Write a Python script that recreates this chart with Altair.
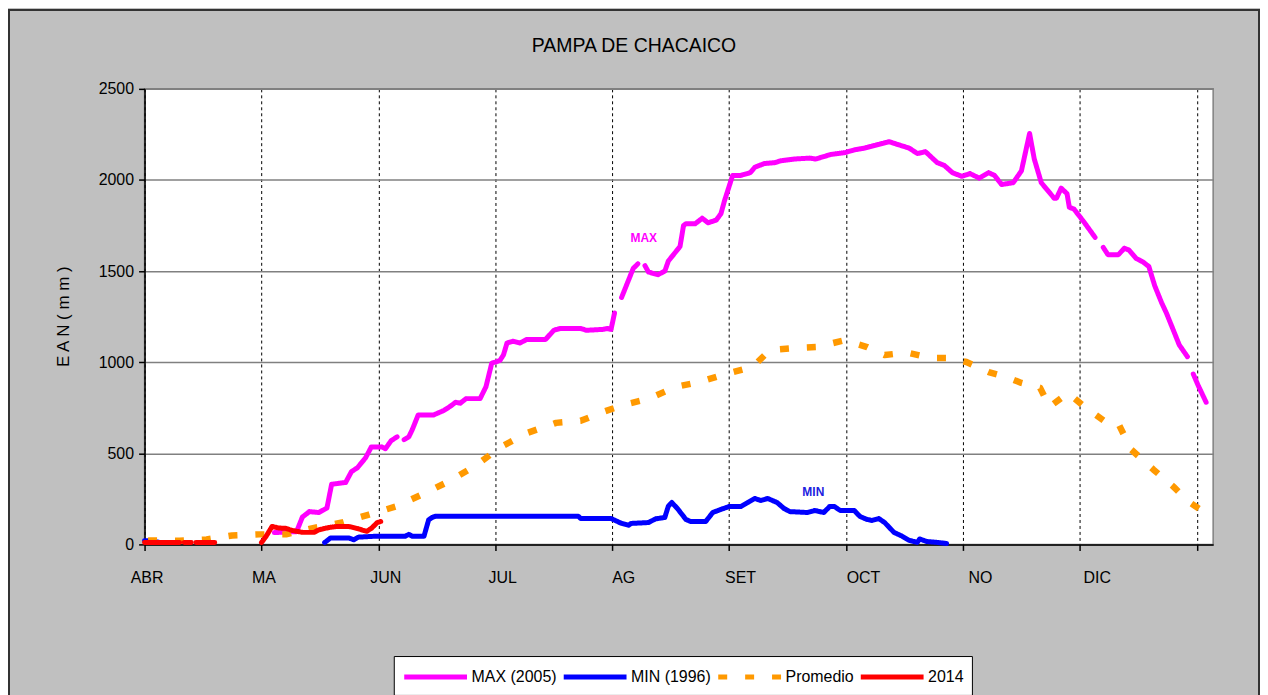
import altair as alt
import pandas as pd

FONT = "Liberation Sans, Arial, sans-serif"

# ---- categories / labels ----
chart_title = "PAMPA DE CHACAICO"
y_title = "E A N  ( m m )"
months = ["ABR", "MA", "JUN", "JUL", "AG", "SET", "OCT", "NO", "DIC"]
series_names = ["MAX (2005)", "MIN (1996)", "Promedio", "2014"]
series_colors = ["#FF00FF", "#0000FF", "#FF9900", "#FF0000"]
series_dash = [[1, 0], [1, 0], [9, 18], [1, 0]]
y_ticks = [0, 500, 1000, 1500, 2000, 2500]

# ---- data: x = months since 1 April, y = EAN (mm); None marks a gap ----
max_x = [1.11, 1.30, 1.35, 1.41, 1.49, 1.56, 1.60, 1.72, 1.77, 1.82, 1.89, 1.94, 2.03, 2.06, 2.11, 2.16, None,
         2.22, 2.26, 2.29, 2.34, 2.47, 2.56, 2.62, 2.66, 2.70, 2.75, 2.87, 2.92, 2.97, 3.00, 3.04, 3.07, 3.10,
         3.15, 3.21, 3.27, 3.43, 3.50, 3.56, 3.73, 3.78, 3.92, 3.96, 3.99, 4.02, None,
         4.08, 4.18, 4.22, None,
         4.28, 4.31, 4.39, 4.45, 4.48, 4.58, 4.61, 4.63, 4.71, 4.77, 4.82, 4.89, 4.93, 4.96, 5.03, 5.10, 5.18,
         5.22, 5.30, 5.39, 5.44, 5.56, 5.69, 5.74, 5.87, 5.99, 6.07, 6.16, 6.25, 6.37, 6.44, 6.54, 6.61, 6.68,
         6.78, 6.84, 6.91, 6.99, 7.06, 7.14, 7.22, 7.27, 7.33, 7.43, 7.50, 7.57, 7.61, 7.67, 7.78, 7.80, 7.84,
         7.89, 7.91, 7.95, 8.04, 8.13, None,
         8.20, 8.24, 8.33, 8.38, 8.42, 8.48, 8.54, 8.59, 8.64, 8.70, 8.74, 8.80, 8.85, 8.92, None,
         8.97, 9.01, 9.08]
max_y = [65, 70, 150, 180, 175, 200, 330, 340, 400, 420, 475, 535, 535, 525, 570, 590, None,
         575, 590, 630, 710, 710, 735, 760, 780, 775, 800, 800, 865, 995, 1000, 1010, 1040, 1105,
         1115, 1105, 1125, 1125, 1175, 1185, 1185, 1175, 1180, 1185, 1180, 1270, None,
         1355, 1515, 1540, None,
         1530, 1495, 1480, 1500, 1555, 1635, 1750, 1760, 1760, 1790, 1765, 1780, 1815, 1885, 2025, 2025, 2040,
         2070, 2090, 2095, 2105, 2115, 2120, 2115, 2140, 2150, 2165, 2175, 2190, 2210, 2195, 2175, 2145, 2155,
         2095, 2080, 2040, 2020, 2035, 2010, 2040, 2025, 1975, 1985, 2050, 2255, 2115, 1985, 1900, 1900, 1955,
         1925, 1850, 1840, 1765, 1685, None,
         1630, 1590, 1590, 1625, 1615, 1570, 1550, 1525, 1420, 1325, 1270, 1175, 1095, 1030, None,
         935, 875, 780]

min_x = [0.00, 0.06, 0.13, None,
         1.54, 1.59, 1.75, 1.79, 1.83, 1.98, 2.23, 2.26, 2.29, 2.39, 2.43, 2.46, 2.49, 3.71, 3.73, 3.99,
         4.07, 4.14, 4.16, 4.31, 4.37, 4.45, 4.48, 4.51, 4.56, 4.63, 4.67, 4.80, 4.86, 4.92, 5.00, 5.10,
         5.16, 5.22, 5.27, 5.33, 5.41, 5.47, 5.52, 5.67, 5.73, 5.81, 5.86, 5.90, 5.95, 6.07, 6.12, 6.18,
         6.22, 6.28, 6.33, 6.41, 6.48, 6.54, 6.61, 6.63, 6.69, 6.78, 6.86]
min_y = [20, 20, 10, None,
         10, 35, 35, 25, 40, 45, 45, 55, 45, 45, 135, 148, 155, 155, 142, 142,
         118, 105, 115, 120, 140, 148, 210, 230, 195, 137, 126, 126, 175, 190, 208, 208,
         230, 252, 241, 252, 230, 197, 180, 175, 186, 175, 208, 208, 186, 186, 153, 137,
         131, 142, 120, 66, 45, 22, 11, 30, 16, 11, 5]

prom_x = [0.03, 0.30, 0.53, 0.75, 0.98, 1.21, 1.43, 1.69, 1.92, 2.15, 2.37, 2.60, 2.83, 3.05, 3.28, 3.52,
          3.73, 3.90, 4.11, 4.31, 4.54, 4.75, 4.97, 5.20, 5.35, 5.57, 5.75, 5.99, 6.18, 6.33, 6.52, 6.72,
          6.89, 7.03, 7.22, 7.37, 7.50, 7.66, 7.74, 7.90, 8.04, 8.23, 8.33, 8.44, 8.63, 8.80, 8.93, 9.10]
prom_y = [22, 20, 27, 49, 55, 55, 88, 120, 164, 208, 273, 345, 432, 536, 613, 667,
          678, 722, 768, 799, 864, 892, 935, 974, 1067, 1078, 1083, 1121, 1083, 1039, 1053, 1023,
          1023, 1001, 946, 919, 886, 859, 755, 831, 755, 667, 662, 520, 410, 317, 235, 160]

y2014_x = [0.00, 0.30, None, 0.34, 0.40, None, 0.44, 0.60, None,
           1.00, 1.04, 1.09, 1.15, 1.21, 1.26, 1.35, 1.45, 1.49, 1.58, 1.64, 1.75, 1.83, 1.90, 1.94, 1.99, 2.02]
y2014_y = [10, 10, None, 10, 10, None, 10, 10, None,
           10, 45, 98, 90, 88, 77, 66, 66, 80, 93, 98, 98, 85, 72, 88, 120, 126]

ann_x = [4.27, 5.72]
ann_y = [1680, 290]
ann_text = ["MAX", "MIN"]


def build(name, xs, ys):
    rows, seg = [], 0
    for x, y in zip(xs, ys):
        if x is None or y is None:
            seg += 1
            continue
        rows.append({"serie": name, "seg": f"{name}-{seg}", "x": x, "y": y})
    return rows


df = pd.DataFrame(
    build(series_names[0], max_x, max_y)
    + build(series_names[1], min_x, min_y)
    + build(series_names[2], prom_x, prom_y)
    + build(series_names[3], y2014_x, y2014_y)
)

W, H = 1072, 457

legend = alt.Legend(
    orient="none", legendX=250, legendY=569, direction="horizontal", columns=4,
    title=None, symbolType="M-1,0H5", symbolSize=441, symbolStrokeWidth=5,
    labelFont=FONT, labelFontSize=16, labelColor="black", labelOffset=44,
    columnPadding=-4, padding=8, fillColor="white", strokeColor="black",
    labelLimit=300, gridAlign="none",
)

x_enc = alt.X(
    "x:Q",
    scale=alt.Scale(domain=[0, 9.14], nice=False, zero=False),
    axis=alt.Axis(
        values=list(range(len(months) + 1)),
        labelExpr="datum.value < %d ? split('%s', ',')[datum.value] : ''" % (len(months), ",".join(months)),
        title=None, grid=True, gridDash=[3, 3], gridColor="black", gridWidth=1,
        domainColor="black", domainWidth=1.5, tickColor="black", tickSize=6, tickWidth=1.5,
        labelFont=FONT, labelFontSize=16, labelColor="black", labelPadding=19,
        labelOffset={
            "condition": [
                {"test": "datum.value <= 1", "value": 2},
                {"test": "datum.value <= 3", "value": 7},
                {"test": "datum.value <= 5", "value": 11},
            ],
            "value": 17,
        },
        labelBaseline="top", labelFlush=False,
    ),
)
y_enc = alt.Y(
    "y:Q",
    scale=alt.Scale(domain=[0, 2500], nice=False),
    axis=alt.Axis(
        values=y_ticks, format="d", title=y_title, grid=True, gridColor="#808080", gridWidth=1.5,
        domainColor="black", domainWidth=1.5, tickColor="black", tickSize=6, tickWidth=1.5,
        labelFont=FONT, labelFontSize=16, labelColor="black", labelPadding=5,
        titleFont=FONT, titleFontSize=17, titleFontWeight="normal", titleColor="black",
        titleX=-81, titleY=228, titleAngle=-90, titleAlign="center", titleBaseline="middle",
    ),
)
color = alt.Color("serie:N", scale=alt.Scale(domain=series_names, range=series_colors), legend=legend)
dash = alt.StrokeDash("serie:N", scale=alt.Scale(domain=series_names, range=series_dash), legend=legend)

base = alt.Chart(df).encode(x=x_enc, y=y_enc, color=color, strokeDash=dash, detail="seg:N")


def line_layer(name, width, cap):
    return base.transform_filter(alt.datum.serie == name).mark_line(
        strokeWidth=width, strokeCap=cap, strokeJoin="round"
    )


l_max = line_layer(series_names[0], 5, "round")
l_min = line_layer(series_names[1], 5, "round")
l_prom = line_layer(series_names[2], 6.5, "butt")
l_2014 = line_layer(series_names[3], 5, "round")

ann_df = pd.DataFrame({"x": ann_x, "y": ann_y, "t": ann_text})
ann_max = alt.Chart(ann_df).transform_filter(alt.datum.t == "MAX").mark_text(
    font=FONT, fontSize=12, fontWeight="bold", color="#FF00FF"
).encode(x="x:Q", y="y:Q", text="t:N")
ann_min = alt.Chart(ann_df).transform_filter(alt.datum.t == "MIN").mark_text(
    font=FONT, fontSize=12, fontWeight="bold", color="#2020E0"
).encode(x="x:Q", y="y:Q", text="t:N")

one = pd.DataFrame({"t": [chart_title]})
title_layer = alt.Chart(one).mark_text(
    font=FONT, fontSize=19.5, color="black", align="center", baseline="alphabetic"
).encode(x=alt.value(491), y=alt.value(-37), text="t:N")

frame = alt.Chart(pd.DataFrame({"a": [0]})).mark_rect(filled=False, color="#333333", strokeWidth=2).encode(
    x=alt.value(-136), x2=alt.value(1118), y=alt.value(-79), y2=alt.value(700)
)

chart = (
    alt.layer(l_max, l_min, l_prom, l_2014, ann_max, ann_min, title_layer, frame)
    .properties(
        width=W, height=H, background="#C0C0C0",
        autosize=alt.AutoSizeParams(type="none"),
        padding={"left": 137, "top": 80, "right": 47, "bottom": 163},
    )
    .configure_view(stroke="#808080", strokeWidth=1.5, fill="white")
)

chart.save("out.html", embed_options={"renderer": "svg", "actions": False})
